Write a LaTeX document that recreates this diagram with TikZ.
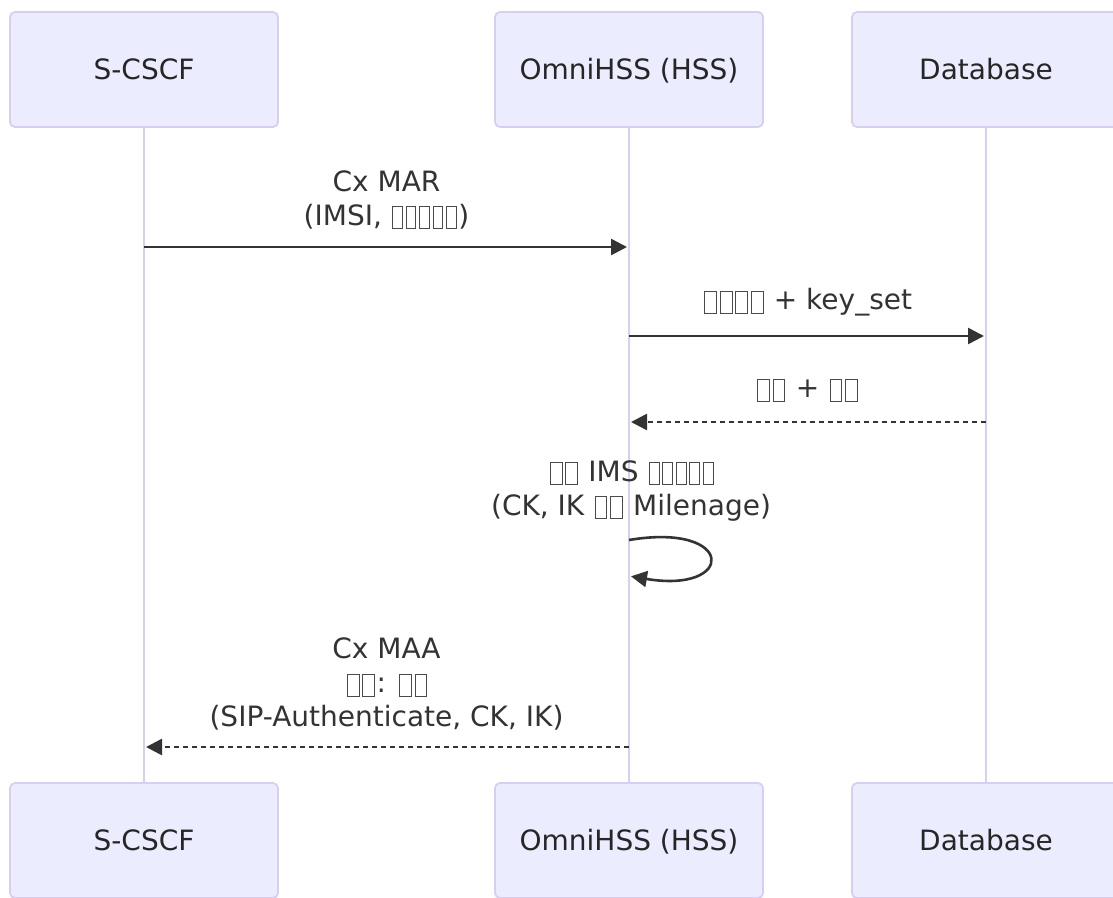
\documentclass[tikz,border=0pt]{standalone}
\usepackage{fontspec}
\setmainfont{DejaVu Sans}
\usetikzlibrary{arrows.meta}
\definecolor{actfill}{HTML}{ECECFF}
\definecolor{actline}{HTML}{D9CEF2}
\definecolor{ink}{HTML}{333333}
\definecolor{tofuink}{HTML}{4A4A4A}
\newcommand\tofubox[1]{\hspace{1.4pt}\raisebox{-3pt}{\color{tofuink}\setlength\fboxsep{0pt}\setlength\fboxrule{1pt}\fbox{\rule{0pt}{21pt}\hspace{#1}}}\hspace{1.4pt}}
\newcommand\tofW{\tofubox{10.7pt}}
\newcommand\tofN{\tofubox{8.7pt}}
\begin{document}
\begin{tikzpicture}[x=1pt,y=-1pt,font=\fontsize{28}{34}\selectfont,
  actor/.style={draw=actline, fill=actfill, line width=1.8pt, rounded corners=5pt,
    minimum width=268pt, minimum height=115pt, inner sep=0pt, text=black!85,
    text height=20.4pt, text depth=0pt},
  lifeline/.style={draw=actline, line width=2pt},
  msg/.style={draw=ink, line width=2.6pt, -{Triangle[length=16pt,width=16pt]}, shorten >=2pt},
  reply/.style={msg, dash pattern=on 5pt off 4pt},
  lbl/.style={text=ink, align=center, inner sep=0pt}]
\useasboundingbox (0,0) rectangle (1113,897);
\clip (0,0) rectangle (1113,897);
\fill[white] (0,0) rectangle (1113,897);
% actors
\node[actor] (sT) at (144,69.5) {S-CSCF};
\node[actor] (hT) at (629,69.5) {OmniHSS (HSS)};
\node[actor] (dT) at (986,69.5) {Database};
\node[actor] (sB) at (144,840.5) {S-CSCF};
\node[actor] (hB) at (629,840.5) {OmniHSS (HSS)};
\node[actor] (dB) at (986,840.5) {Database};
% lifelines
\draw[lifeline] (sT.south) -- (sB.north);
\draw[lifeline] (hT.south) -- (hB.north);
\draw[lifeline] (dT.south) -- (dB.north);
% message points
\coordinate (m1a) at (sT |- 0,247);
\coordinate (m1b) at (hT |- 0,247);
\coordinate (m2a) at (hT |- 0,336);
\coordinate (m2b) at (dT |- 0,336);
\coordinate (m3a) at (dT |- 0,422);
\coordinate (m3b) at (hT |- 0,422);
\coordinate (m4a) at (hT |- 0,540);
\coordinate (m4b) at (hT |- 0,576);
\coordinate (m5a) at (hT |- 0,747);
\coordinate (m5b) at (sT |- 0,747);
% messages
\node[lbl] (l1) at (386.5,200) {Cx MAR\\(IMSI, \tofN\tofN\tofN\tofN\tofN)};
\draw[msg] (m1a) -- (m1b);
\node[lbl] (l2) at (807.5,302.5) {\tofW\tofW\tofW\tofW{} + key\_set};
\draw[msg] (m2a) -- (m2b);
\node[lbl] (l3) at (807.5,390) {\tofW\tofW{} + \tofW\tofW};
\draw[reply] (m3a) -- (m3b);
\node[lbl] (l4) at (631,491) {\tofW\tofW{} IMS \tofN\tofN\tofN\tofN\tofN\\(CK, IK \tofW\tofW{} Milenage)};
\draw[msg] (m4a) .. controls +(107,-18) and +(107,18) .. (m4b);
\node[lbl] (l5) at (386.5,684) {Cx MAA\\\tofW\tofW: \tofW\tofW\\(SIP-Authenticate, CK, IK)};
\draw[reply] (m5a) -- (m5b);
\end{tikzpicture}
\end{document}
